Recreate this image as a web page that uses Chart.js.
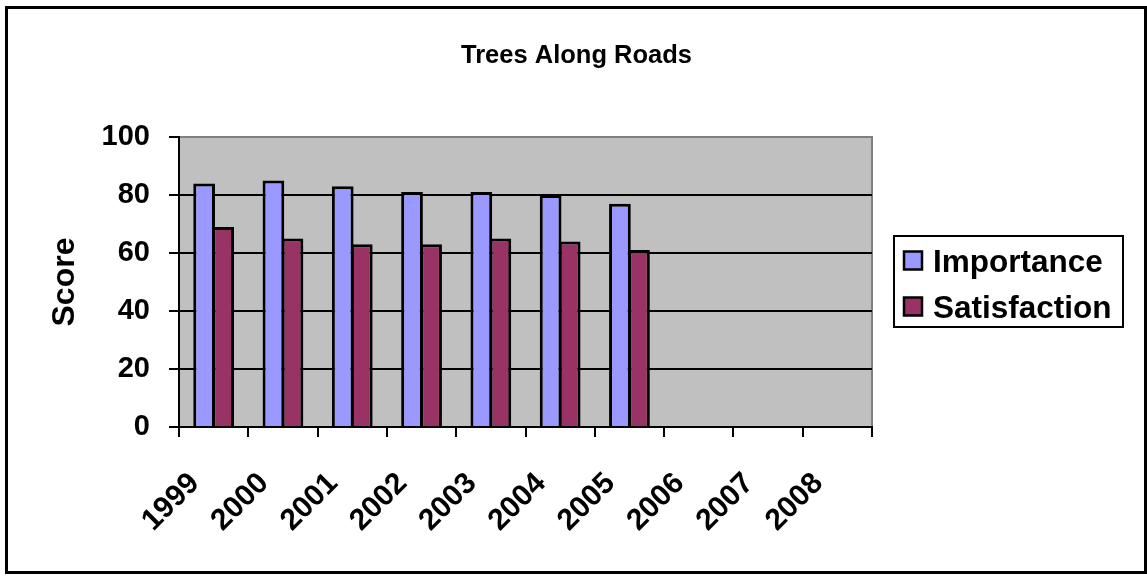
<!DOCTYPE html>
<html>
<head>
<meta charset="utf-8">
<title>Trees Along Roads</title>
<script src="https://cdn.jsdelivr.net/npm/chart.js@4.4.0/dist/chart.umd.min.js"></script>
<style>
  html, body { margin: 0; padding: 0; background: #ffffff; }
  #wrap { width: 1147px; height: 576px; }
</style>
</head>
<body>
<div id="wrap"><canvas id="chart" width="1147" height="576"></canvas></div>
<script>
// Survey scores by year
const chartTitle = 'Trees Along Roads';
const axisTitle = 'Score';
const years = ['1999', '2000', '2001', '2002', '2003', '2004', '2005', '2006', '2007', '2008'];
const importance = [84, 85, 83, 81, 81, 80, 77, null, null, null];
const satisfaction = [69, 65, 63, 63, 65, 64, 61, null, null, null];
const yTicks = [0, 20, 40, 60, 80, 100];

const FONT = '"Liberation Sans", Arial, Helvetica, sans-serif';

// White page, grey plot area, outer frame and the chart heading
const framePlugin = {
  id: 'frame',
  beforeDraw(chart) {
    const { ctx, chartArea: a, width, height } = chart;
    ctx.save();
    ctx.fillStyle = '#ffffff';
    ctx.fillRect(0, 0, width, height);
    ctx.fillStyle = '#c0c0c0';
    ctx.fillRect(a.left, a.top, a.right - a.left, a.bottom - a.top);
    ctx.strokeStyle = '#808080';
    ctx.lineWidth = 2;
    ctx.beginPath();
    ctx.moveTo(a.left, a.top);
    ctx.lineTo(a.right, a.top);
    ctx.lineTo(a.right, a.bottom);
    ctx.stroke();
    ctx.strokeStyle = '#000000';
    ctx.lineWidth = 3;
    ctx.strokeRect(6.5, 7.5, width - 8, height - 11);
    ctx.restore();
  },
  afterDraw(chart) {
    const { ctx, width } = chart;
    ctx.save();
    ctx.fillStyle = '#000000';
    ctx.font = 'bold 25.5px ' + FONT;
    ctx.textAlign = 'center';
    ctx.textBaseline = 'middle';
    ctx.fillText(chartTitle, width / 2 + 3, 56);
    ctx.restore();
  }
};

// Boxed legend to the right of the plot
const legendPlugin = {
  id: 'boxedLegend',
  afterDraw(chart) {
    const { ctx, chartArea: a } = chart;
    const left = a.right + 22;
    const top = 236;
    ctx.save();
    ctx.strokeStyle = '#000000';
    ctx.lineWidth = 2;
    ctx.strokeRect(left, top, 229, 91);
    ctx.font = 'bold 31.5px ' + FONT;
    ctx.textAlign = 'left';
    ctx.textBaseline = 'alphabetic';
    chart.data.datasets.forEach((ds, i) => {
      const rowTop = top + 15.5 + i * 46;
      ctx.fillStyle = ds.backgroundColor;
      ctx.fillRect(left + 10, rowTop, 18, 18);
      ctx.lineWidth = 2.5;
      ctx.strokeRect(left + 10, rowTop, 18, 18);
      ctx.fillStyle = '#000000';
      ctx.fillText(ds.label, left + 39, rowTop + 20.5);
    });
    ctx.restore();
  }
};

const tickFont = { family: FONT, size: 29, weight: 'bold' };

new Chart(document.getElementById('chart'), {
  type: 'bar',
  data: {
    labels: years,
    datasets: [
      {
        label: 'Importance',
        data: importance,
        backgroundColor: '#9999ff',
        borderColor: '#000000',
        borderWidth: 3,
        inflateAmount: 0
      },
      {
        label: 'Satisfaction',
        data: satisfaction,
        backgroundColor: '#993366',
        borderColor: '#000000',
        borderWidth: 3,
        inflateAmount: 0
      }
    ]
  },
  options: {
    responsive: false,
    animation: false,
    devicePixelRatio: 1,
    layout: { padding: { left: 8, right: 275, top: 137, bottom: 0 } },
    datasets: { bar: { categoryPercentage: 0.55, barPercentage: 1.14 } },
    plugins: {
      legend: { display: false },
      tooltip: { enabled: false },
      title: { display: false }
    },
    scales: {
      x: {
        z: 1,
        grid: {
          offset: true,
          drawOnChartArea: false,
          drawTicks: true,
          tickLength: 10,
          color: '#000000',
          lineWidth: 2
        },
        border: { color: '#000000', width: 2 },
        ticks: {
          color: '#000000',
          font: { family: FONT, size: 30, weight: 'bold' },
          minRotation: 45,
          maxRotation: 45,
          autoSkip: false,
          padding: 29,
          labelOffset: -19
        },
        afterFit(scale) { scale.height = 149; }
      },
      y: {
        min: 0,
        max: 100,
        afterBuildTicks(scale) { scale.ticks = yTicks.map(v => ({ value: v })); },
        ticks: { color: '#000000', font: tickFont, padding: 19 },
        grid: {
          color: (c) => (c.tick && c.tick.value === 100 ? '#808080' : '#000000'),
          tickColor: '#000000',
          lineWidth: 2,
          tickLength: 10
        },
        border: { color: '#000000', width: 2 },
        title: {
          display: true,
          text: axisTitle,
          color: '#000000',
          font: { family: FONT, size: 32, weight: 'bold' },
          padding: { top: 38, bottom: 0 }
        },
        afterFit(scale) { scale.width = 171; }
      }
    }
  },
  plugins: [framePlugin, legendPlugin]
});
</script>
</body>
</html>
